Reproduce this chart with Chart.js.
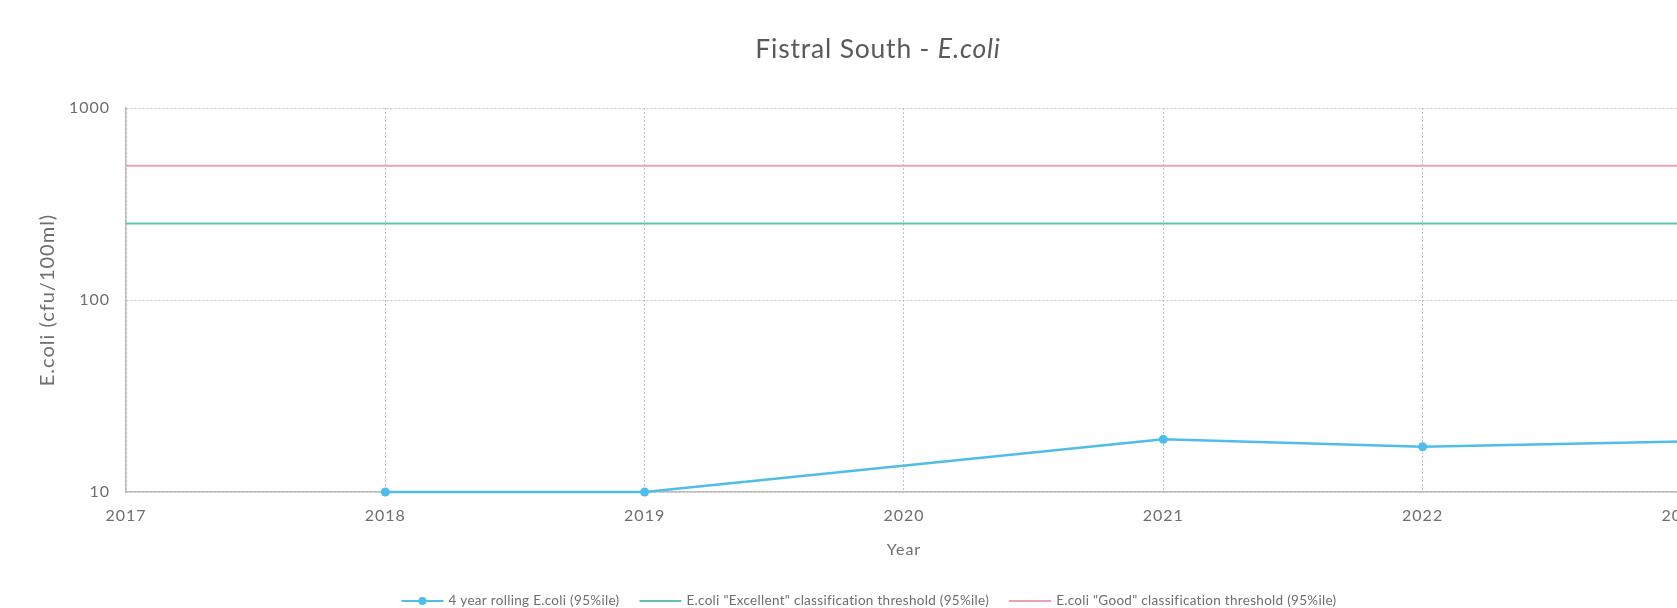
<!DOCTYPE html>
<html>
<head>
<meta charset="utf-8">
<script src="https://cdn.jsdelivr.net/npm/chart.js@4.4.1/dist/chart.umd.min.js"></script>
<style>
  html, body { margin: 0; padding: 0; background: #ffffff; overflow: hidden; }
  #clip { width: 1677px; height: 608px; overflow: hidden; position: relative; }
  #wrap { width: 1717px; height: 608px; position: absolute; left: 0; top: 0; }
</style>
</head>
<body>
<div id="clip"><div id="wrap"><canvas id="c"></canvas></div></div>
<script>
const years = [2017, 2018, 2019, 2020, 2021, 2022, 2023];
const rolling95 = [null, 10, 10, null, 18.8, 17.2, 18.3];
const excellentThreshold = [250, 250, 250, 250, 250, 250, 250];
const goodThreshold = [500, 500, 500, 500, 500, 500, 500];
const yTicks = [10, 100, 1000];

const seriesLabels = [
  '4 year rolling E.coli (95%ile)',
  'E.coli "Excellent" classification threshold (95%ile)',
  'E.coli "Good" classification threshold (95%ile)'
];

const FONT = 'Lato, "Open Sans", sans-serif';
const TEXT = '#6e6e6e';
const C_SERIES = '#4fbde9';
const C_EXC = '#63c3ae';
const C_GOOD = '#e9a3ae';

function toXY(vals) { return years.map((y, i) => ({ x: y, y: vals[i] })); }

const spacing = {
  id: 'spacing',
  beforeLayout(chart) { chart.ctx.letterSpacing = '1px'; },
  beforeDraw(chart) { chart.ctx.letterSpacing = '1px'; }
};

const titleAndLegend = {
  id: 'titleAndLegend',
  afterDraw(chart) {
    const ctx = chart.ctx;
    // Title with italic part
    ctx.save();
    ctx.letterSpacing = '0.8px';
    const tcx = 878;
    const p1 = 'Fistral South - ';
    const p2 = 'E.coli';
    const f1 = '26.5px ' + FONT;
    const f2 = 'italic 26.5px ' + FONT;
    ctx.font = f1; const w1 = ctx.measureText(p1).width;
    ctx.font = f2; const w2 = ctx.measureText(p2).width;
    let x = tcx - (w1 + w2) / 2;
    ctx.fillStyle = '#5a5a5a';
    ctx.textBaseline = 'middle';
    ctx.font = f1; ctx.fillText(p1, x, 49);
    ctx.font = f2; ctx.fillText(p2, x + w1, 49);
    ctx.restore();

    // Legend
    ctx.save();
    ctx.letterSpacing = '0.3px';
    ctx.font = '13.5px ' + FONT;
    ctx.textBaseline = 'middle';
    const lcx = 869;
    const lineW = 42, gapLT = 5, gapItem = 20;
    const items = chart.data.datasets.map(d => ({
      label: d.label, color: d.borderColor, marker: d.pointRadius > 0,
      w: lineW + gapLT + ctx.measureText(d.label).width
    }));
    const total = items.reduce((s, it) => s + it.w, 0) + gapItem * (items.length - 1);
    let lx = lcx - total / 2;
    const ly = 601;
    items.forEach(it => {
      ctx.strokeStyle = it.color;
      ctx.lineWidth = 2;
      ctx.beginPath(); ctx.moveTo(lx, ly); ctx.lineTo(lx + lineW, ly); ctx.stroke();
      if (it.marker) {
        ctx.fillStyle = it.color;
        ctx.beginPath(); ctx.arc(lx + lineW / 2, ly, 4, 0, Math.PI * 2); ctx.fill();
      }
      ctx.fillStyle = TEXT;
      ctx.fillText(it.label, lx + lineW + gapLT, ly);
      lx += it.w + gapItem;
    });
    ctx.restore();
  }
};

new Chart(document.getElementById('c'), {
  type: 'line',
  data: {
    datasets: [
      {
        label: seriesLabels[0], data: toXY(rolling95),
        borderColor: C_SERIES, backgroundColor: C_SERIES,
        borderWidth: 2.5, pointRadius: 4.5, pointHoverRadius: 4.5,
        pointBackgroundColor: C_SERIES, pointBorderWidth: 0,
        spanGaps: true, tension: 0, clip: false
      },
      {
        label: seriesLabels[1], data: toXY(excellentThreshold),
        borderColor: C_EXC, borderWidth: 2, pointRadius: 0, tension: 0
      },
      {
        label: seriesLabels[2], data: toXY(goodThreshold),
        borderColor: C_GOOD, borderWidth: 2, pointRadius: 0, tension: 0
      }
    ]
  },
  options: {
    responsive: true,
    maintainAspectRatio: false,
    animation: false,
    events: [],
    layout: { padding: { top: 108, left: 0, right: 0, bottom: 49 } },
    plugins: { legend: { display: false }, title: { display: false }, tooltip: { enabled: false } },
    scales: {
      x: {
        type: 'linear', min: 2017, max: 2023,
        afterBuildTicks(scale) { scale.ticks = years.map(v => ({ value: v })); },
        afterFit(scale) { scale.height = 67; },
        ticks: {
          color: TEXT, font: { family: FONT, size: 16 }, padding: 14.5,
          callback: v => String(v), maxRotation: 0, autoSkip: false
        },
        grid: { color: '#c2c2c2', lineWidth: 1, drawTicks: false },
        border: { display: true, color: '#bdbdbd', width: 1.5, dash: [2, 2] },
        title: { display: true, text: 'Year', color: TEXT, font: { family: FONT, size: 16 }, padding: { top: 0, bottom: 0 } }
      },
      y: {
        type: 'logarithmic', min: 10, max: 1000,
        afterBuildTicks(scale) { scale.ticks = yTicks.map(v => ({ value: v })); },
        afterFit(scale) { scale.width = 126; },
        ticks: {
          color: TEXT, font: { family: FONT, size: 16 }, padding: 16,
          callback: v => String(v)
        },
        grid: { color: '#c2c2c2', lineWidth: 1, drawTicks: false },
        border: { display: true, color: '#bdbdbd', width: 1.5, dash: [2, 2] },
        title: { display: true, text: 'E.coli (cfu/100ml)', color: TEXT, font: { family: FONT, size: 20 }, padding: { top: 36, bottom: 0 } }
      }
    }
  },
  plugins: [spacing, titleAndLegend]
});
</script>
</body>
</html>
